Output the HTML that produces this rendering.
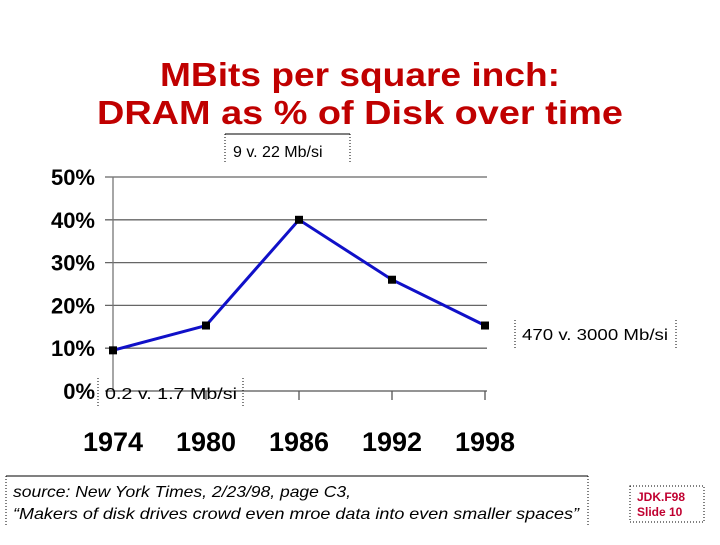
<!DOCTYPE html>
<html><head><meta charset="utf-8"><style>
body{margin:0;background:#fff;width:720px;height:540px;overflow:hidden}
svg text{font-family:"Liberation Sans",sans-serif}
</style></head><body>
<svg id="c" width="720" height="540">
<text x="360" y="86" text-anchor="middle" font-size="33" font-weight="bold" fill="#c00000" textLength="400" lengthAdjust="spacingAndGlyphs">MBits per square inch:</text>
<text x="360" y="124" text-anchor="middle" font-size="33" font-weight="bold" fill="#c00000" textLength="526" lengthAdjust="spacingAndGlyphs">DRAM as % of Disk over time</text>
<g id="grid"></g>
<g id="yt"></g>
<g id="xt"></g>
<g id="series"></g>
<g>
<line x1="225" y1="134" x2="350" y2="134" stroke="#000"/>
<line x1="225" y1="134" x2="225" y2="163" stroke="#000" stroke-dasharray="1,2"/>
<line x1="350" y1="134" x2="350" y2="163" stroke="#000" stroke-dasharray="1,2"/>
<text x="233" y="157" font-size="16">9  v. 22 Mb/si</text></g>
<g>
<line x1="515" y1="320" x2="515" y2="348" stroke="#000" stroke-dasharray="1,2"/>
<line x1="676" y1="320" x2="676" y2="348" stroke="#000" stroke-dasharray="1,2"/>
<text x="522" y="340" font-size="16" textLength="146" lengthAdjust="spacingAndGlyphs">470 v. 3000 Mb/si</text></g>
<g>
<line x1="98" y1="378" x2="98" y2="406" stroke="#000" stroke-dasharray="1,2"/>
<line x1="243" y1="378" x2="243" y2="406" stroke="#000" stroke-dasharray="1,2"/>
<text x="105" y="399" font-size="16" textLength="132" lengthAdjust="spacingAndGlyphs">0.2  v. 1.7 Mb/si</text></g>
<g>
<line x1="6" y1="476" x2="588" y2="476" stroke="#000"/>
<line x1="6" y1="476" x2="6" y2="526" stroke="#000" stroke-dasharray="1,2"/>
<line x1="588" y1="476" x2="588" y2="526" stroke="#000" stroke-dasharray="1,2"/>
<text x="13" y="497" font-size="16" font-style="italic" textLength="338" lengthAdjust="spacingAndGlyphs">source: New York Times, 2/23/98, page C3,</text>
<text x="13" y="519" font-size="16" font-style="italic" textLength="566" lengthAdjust="spacingAndGlyphs">“Makers of disk drives crowd even mroe data into even smaller spaces”</text></g>
<g>
<rect x="630" y="486" width="74" height="36" fill="none" stroke="#000" stroke-dasharray="1,2"/>
<text x="637" y="501" font-size="12" font-weight="bold" fill="#c00030">JDK.F98</text>
<text x="637" y="516" font-size="12" font-weight="bold" fill="#c00030">Slide 10</text></g>
</svg>
<script>
const years=["1974","1980","1986","1992","1998"];
const values=[9.5,15.3,40,26,15.3];
const yTicks=[0,10,20,30,40,50];
const yTickLabels=["0%","10%","20%","30%","40%","50%"];
const NS="http://www.w3.org/2000/svg";
const x0=113,x1=485,yBase=391,yTop=177;
const xs=i=>x0+i*(x1-x0)/(years.length-1);
const ys=v=>yBase-(v/50)*(yBase-yTop);
function mk(t,a,p){const e=document.createElementNS(NS,t);for(const k in a)e.setAttribute(k,a[k]);p.appendChild(e);return e;}
const g=document.getElementById('grid');
yTicks.forEach(v=>{const l=mk('line',{x1:105,x2:487,y1:ys(v),y2:ys(v),stroke:v===0?'#555':'#666','stroke-width':1.3},g);

});
const ax=mk('line',{x1:x0,x2:x0,y1:yTop,y2:yBase,stroke:'#777','stroke-width':1.3},g);


years.forEach((y,i)=>{if(i>0){const t=mk('line',{x1:xs(i),x2:xs(i),y1:yBase,y2:yBase+9,stroke:'#555','stroke-width':1.3},g);

}});
const yt=document.getElementById('yt');
yTicks.forEach((v,i)=>{const t=mk('text',{x:95,y:ys(v)+8,'text-anchor':'end','font-size':22,'font-weight':'bold'},yt);t.textContent=yTickLabels[i];

});
const xt=document.getElementById('xt');
years.forEach((y,i)=>{const t=mk('text',{x:xs(i),y:451,'text-anchor':'middle','font-size':27,'font-weight':'bold'},xt);t.textContent=y;

});
const s=document.getElementById('series');
const pl=mk('polyline',{points:values.map((v,i)=>xs(i)+','+ys(v)).join(' '),fill:'none',stroke:'#1010c8','stroke-width':3},s);


values.forEach((v,i)=>{const r=mk('rect',{x:xs(i)-4,y:ys(v)-4,width:8,height:8,fill:'#000'},s);

});
</script>
</body></html>
